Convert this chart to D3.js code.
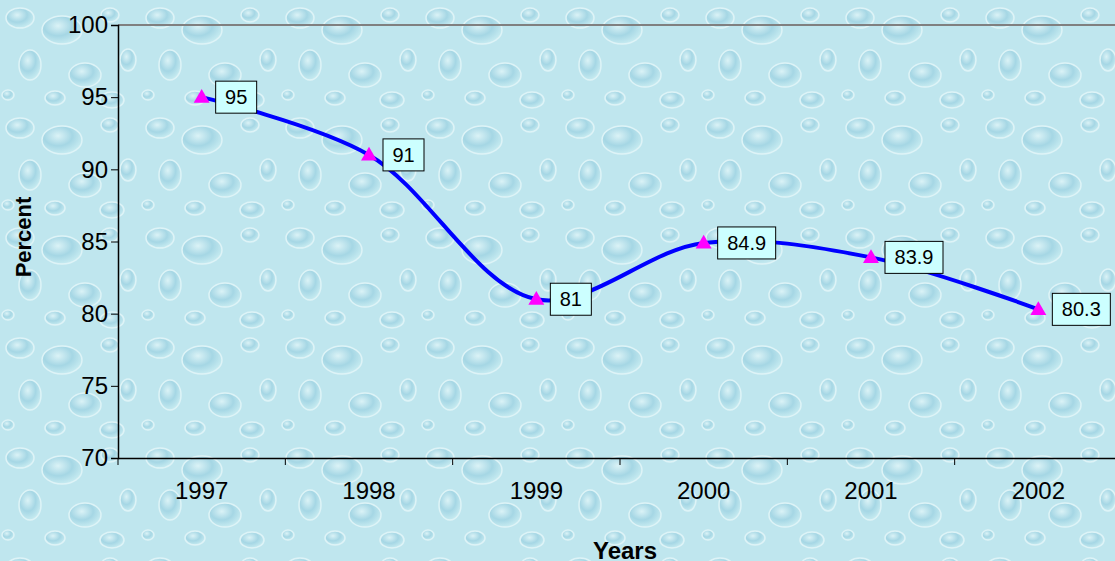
<!DOCTYPE html>
<html>
<head>
<meta charset="utf-8">
<script src="https://cdn.jsdelivr.net/npm/d3@7"></script>
<style>
  body { margin: 0; padding: 0; overflow: hidden; }
  svg { display: block; font-family: Arial, "Liberation Sans", sans-serif; }
</style>
</head>
<body>
<svg id="chart" width="1115" height="561"></svg>
<script>
var years = ["1997", "1998", "1999", "2000", "2001", "2002"];
var percent = [95, 91, 81, 84.9, 83.9, 80.3];
var pointLabels = ["95", "91", "81", "84.9", "83.9", "80.3"];
var yTicks = [70, 75, 80, 85, 90, 95, 100];

var width = 1115, height = 561;
var plotLeft = 118, plotTop = 25, plotBottom = 458, plotRight = 1122;

var svg = d3.select("#chart");
var defs = svg.append("defs");

// water drop texture, built as a repeating tile
var grad = defs.append("radialGradient").attr("id", "drop")
    .attr("cx", "40%").attr("cy", "35%").attr("r", "65%");
grad.append("stop").attr("offset", "0%").attr("stop-color", "#e2f6f8");
grad.append("stop").attr("offset", "55%").attr("stop-color", "#9fd3e2");
grad.append("stop").attr("offset", "100%").attr("stop-color", "#c8ecf1");

var pat = defs.append("pattern").attr("id", "water")
    .attr("patternUnits", "userSpaceOnUse").attr("width", 140).attr("height", 110);
pat.append("rect").attr("width", 140).attr("height", 110).attr("fill", "#bfe6ee");
var drops = [[20, 18, 14, 10], [62, 30, 20, 14], [110, 15, 9, 7], [30, 65, 11, 15],
             [85, 75, 16, 12], [128, 60, 8, 11], [55, 98, 10, 7], [8, 95, 6, 5], [112, 100, 12, 8]];
pat.selectAll("ellipse").data(drops).enter().append("ellipse")
    .attr("cx", function(d) { return d[0]; })
    .attr("cy", function(d) { return d[1]; })
    .attr("rx", function(d) { return d[2]; })
    .attr("ry", function(d) { return d[3]; })
    .attr("fill", "url(#drop)")
    .attr("stroke", "#e6f7f9").attr("stroke-width", 1.5).attr("opacity", 0.8);

svg.append("rect").attr("width", width).attr("height", height).attr("fill", "url(#water)");

var x = d3.scaleBand().domain(years).range([plotLeft, plotRight]);
var y = d3.scaleLinear().domain([70, 100]).range([plotBottom, plotTop]);

// top border of the plot area
svg.append("line")
    .attr("x1", plotLeft).attr("x2", width).attr("y1", plotTop).attr("y2", plotTop)
    .attr("stroke", "#808080").attr("stroke-width", 2);

// y axis
var yAxis = svg.append("g")
    .attr("transform", "translate(" + plotLeft + ",0)")
    .call(d3.axisLeft(y).tickValues(yTicks).tickSize(7).tickPadding(3));
yAxis.attr("font-size", null).attr("font-family", null);
yAxis.select(".domain").attr("stroke", "#000").attr("stroke-width", 1.5);
yAxis.selectAll(".tick line").attr("stroke", "#000");
yAxis.selectAll("text").style("font-size", "24px").attr("fill", "#000");

// x axis with ticks between categories
var xAxis = svg.append("g")
    .attr("transform", "translate(0," + plotBottom + ")")
    .call(d3.axisBottom(x).tickSize(0).tickPadding(24));
xAxis.attr("font-size", null).attr("font-family", null);
xAxis.select(".domain").attr("stroke", "#000").attr("stroke-width", 1.5);
xAxis.selectAll("text").style("font-size", "24px").attr("fill", "#000");
xAxis.selectAll(".sep").data(years.concat(["end"])).enter().append("line")
    .attr("class", "sep")
    .attr("x1", function(d, i) { return plotLeft + i * x.step(); })
    .attr("x2", function(d, i) { return plotLeft + i * x.step(); })
    .attr("y1", 0).attr("y2", 7)
    .attr("stroke", "#000");

// axis titles
svg.append("text")
    .attr("transform", "translate(31,237) rotate(-90)")
    .attr("text-anchor", "middle")
    .style("font-size", "22px").attr("font-weight", "bold")
    .text("Percent");
svg.append("text")
    .attr("x", 625).attr("y", 559)
    .attr("text-anchor", "middle")
    .style("font-size", "24px").attr("font-weight", "bold")
    .text("Years");

var pts = years.map(function(yr, i) {
  return { year: yr, value: percent[i], label: pointLabels[i] };
});
var cx = function(d) { return x(d.year) + x.bandwidth() / 2; };

var line = d3.line()
    .x(cx)
    .y(function(d) { return y(d.value); })
    .curve(d3.curveCatmullRom.alpha(0.5));

svg.append("path")
    .datum(pts)
    .attr("d", line)
    .attr("fill", "none")
    .attr("stroke", "#0000ff")
    .attr("stroke-width", 4);

svg.selectAll(".marker").data(pts).enter().append("path")
    .attr("class", "marker")
    .attr("d", d3.symbol().type(d3.symbolTriangle).size(110))
    .attr("transform", function(d) { return "translate(" + cx(d) + "," + (y(d.value) + 1) + ")"; })
    .attr("fill", "#ff00ff");

// data labels
var boxW = function(d) { return d.label.length > 2 ? 58 : 41; };
var lab = svg.selectAll(".lab").data(pts).enter().append("g")
    .attr("class", "lab")
    .attr("transform", function(d) { return "translate(" + (cx(d) + 14) + "," + y(d.value) + ")"; });
lab.append("rect")
    .attr("y", -16).attr("height", 32)
    .attr("width", boxW)
    .attr("fill", "#ccffff").attr("stroke", "#000").attr("stroke-width", 1);
lab.append("text")
    .attr("x", function(d) { return boxW(d) / 2; })
    .attr("y", 7)
    .attr("text-anchor", "middle")
    .style("font-size", "20px")
    .text(function(d) { return d.label; });
</script>
</body>
</html>
